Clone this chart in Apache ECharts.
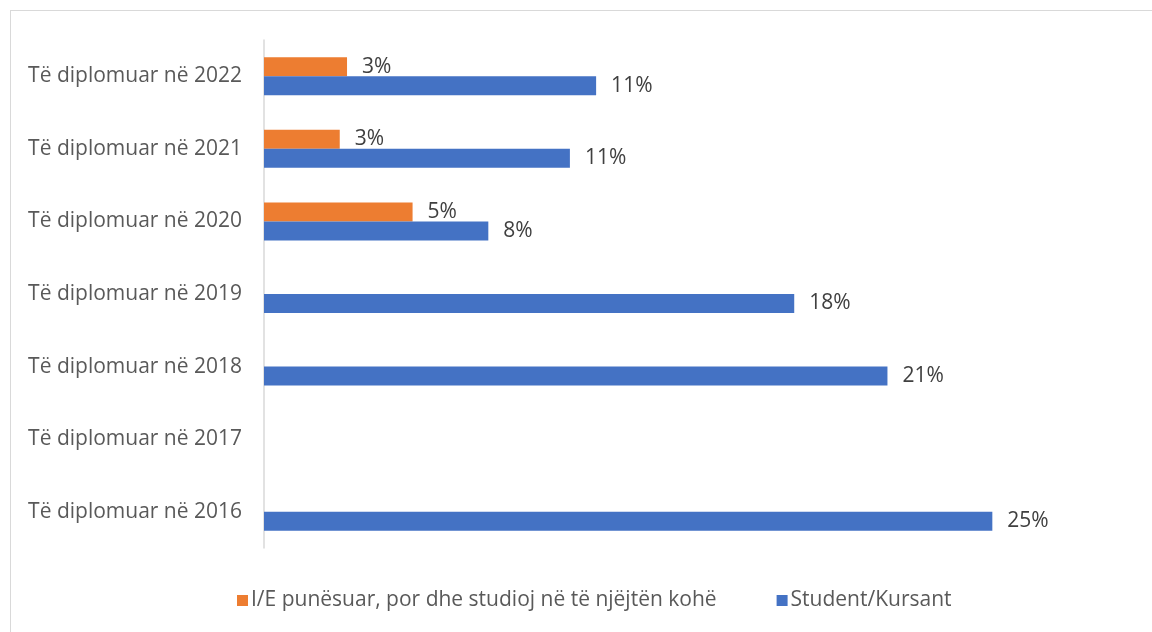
<!DOCTYPE html>
<html>
<head>
<meta charset="utf-8">
<script src="https://cdn.jsdelivr.net/npm/echarts@6/dist/echarts.min.js"></script>
<style>
html,body{margin:0;padding:0;background:#fff;}
#frame{position:absolute;left:10px;top:10px;width:1160px;height:640px;border:1px solid #d9d9d9;box-sizing:border-box;}
#chart{position:absolute;left:0;top:0;width:1152px;height:632px;}
</style>
</head>
<body>
<div id="frame"></div>
<div id="chart"></div>
<script>
const categories = ['Të diplomuar në 2016','Të diplomuar në 2017','Të diplomuar në 2018','Të diplomuar në 2019','Të diplomuar në 2020','Të diplomuar në 2021','Të diplomuar në 2022'];
const seriesNames = ['I/E punësuar, por dhe studioj në të njëjtën kohë','Student/Kursant'];
const employedStudying = [null, null, null, null, 5.1, 2.6, 2.85];
const students = [25.0, null, 21.4, 18.2, 7.7, 10.5, 11.4];

const chart = echarts.init(document.getElementById('chart'));
const font = '"Open Sans", sans-serif';
const lbl = {
  show: true, position: 'right', distance: 15,
  color: '#404040', fontSize: 21, fontFamily: font,
  formatter: p => (p.value == null ? '' : Math.round(p.value) + '%')
};
chart.setOption({
  animation: false,
  grid: {left: 264, right: 14, top: 40, bottom: 84},
  legend: {
    bottom: 16, left: 232, itemWidth: 11, itemHeight: 11, itemGap: 60,
    icon: 'rect',
    textStyle: {color: '#595959', fontSize: 21, fontFamily: font, padding: [0,0,0,-2]},
    data: seriesNames
  },
  xAxis: {type: 'value', min: 0, max: 30, show: false},
  yAxis: {
    type: 'category', data: categories,
    axisLine: {show: true, lineStyle: {color: '#d9d9d9', width: 1.5}},
    axisTick: {show: false},
    axisLabel: {color: '#595959', fontSize: 21, fontFamily: font, margin: 22}
  },
  series: [
    {name: seriesNames[0], type: 'bar', data: employedStudying, barWidth: 19, barGap: '0%',
     itemStyle: {color: '#ed7d31'}, label: lbl},
    {name: seriesNames[1], type: 'bar', data: students, barWidth: 19, barGap: '0%',
     itemStyle: {color: '#4472c4'}, label: lbl}
  ]
});
</script>
</body>
</html>
